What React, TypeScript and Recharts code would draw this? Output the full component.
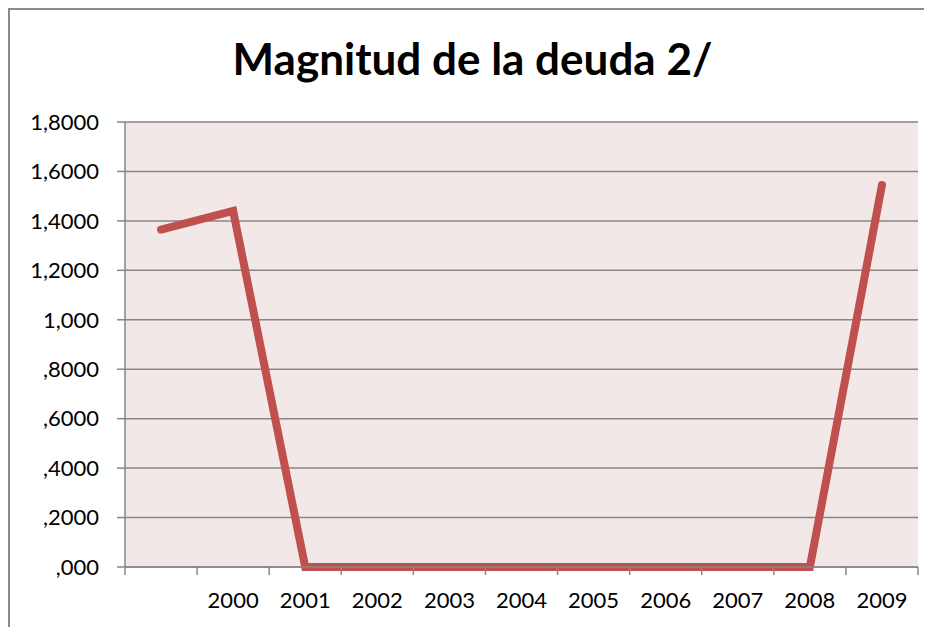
import { LineChart, Line, XAxis, YAxis, CartesianGrid } from 'recharts'

const years = ['', '2000', '2001', '2002', '2003', '2004', '2005', '2006', '2007', '2008', '2009']
const magnitud = [1.365, 1.44, 0, 0, 0, 0, 0, 0, 0, 0, 1.545]
const yTicks = [0, 0.2, 0.4, 0.6, 0.8, 1.0, 1.2, 1.4, 1.6, 1.8]
const yTickLabels = [',000', ',2000', ',4000', ',6000', ',8000', '1,000', '1,2000', '1,4000', '1,6000', '1,8000']

const data = years.map((year, i) => ({ year, pos: i + 0.5, value: magnitud[i] }))
const boundaryTicks = years.map((_, i) => i).concat(years.length)
const centerTicks = years.map((_, i) => i + 0.5)

const font = 'Lato, "Open Sans", sans-serif'

export default function App() {
  return (
    <div style={{ position: 'relative', width: 924, height: 619, borderTop: '2px solid #8a8a8a', borderLeft: '2px solid #8a8a8a', boxSizing: 'border-box', background: '#fff', overflow: 'hidden' }}>
      <style>{'html, body { overflow: hidden; }'}</style>
      <div style={{ position: 'absolute', left: 0, top: 22, width: 925, textAlign: 'center', fontFamily: font, fontWeight: 700, fontSize: 44, color: '#000', lineHeight: '52px' }}>
        Magnitud de la deuda 2/
      </div>
      <div style={{ position: 'absolute', left: -2, top: -2 }}>
        <LineChart width={924} height={619} data={data} margin={{ top: 114, right: 14, bottom: 8, left: 0 }}>
          <CartesianGrid vertical={false} stroke="#878787" strokeWidth={1.5} fill="#f2e8e8" fillOpacity={1} />
          <XAxis
            xAxisId="bounds"
            dataKey="pos"
            type="number"
            domain={[0, years.length]}
            ticks={boundaryTicks}
            tickFormatter={() => ''}
            tickSize={8}
            height={8}
            stroke="#878787"
            strokeWidth={1.5}
          />
          <XAxis
            xAxisId="labels"
            dataKey="pos"
            type="number"
            domain={[0, years.length]}
            ticks={centerTicks}
            tickFormatter={(v: number) => years[Math.floor(v)]}
            axisLine={false}
            tickLine={false}
            tickSize={0}
            tickMargin={17}
            height={44}
            interval={0}
            tick={{ fill: '#000', fontSize: 22, fontFamily: font }}
          />
          <YAxis
            domain={[0, 1.8]}
            ticks={yTicks}
            tickFormatter={(v: number) => yTickLabels[yTicks.findIndex((t) => Math.abs(t - v) < 1e-6)]}
            width={117}
            tickSize={8}
            tickMargin={18}
            interval={0}
            stroke="#878787"
            strokeWidth={1.5}
            tick={{ fill: '#000', fontSize: 22, fontFamily: font }}
          />
          <Line
            xAxisId="bounds"
            dataKey="value"
            type="linear"
            stroke="#c0504d"
            strokeWidth={8}
            strokeLinecap="round"
            strokeLinejoin="miter"
            dot={false}
            activeDot={false}
            isAnimationActive={false}
          />
        </LineChart>
      </div>
    </div>
  )
}
